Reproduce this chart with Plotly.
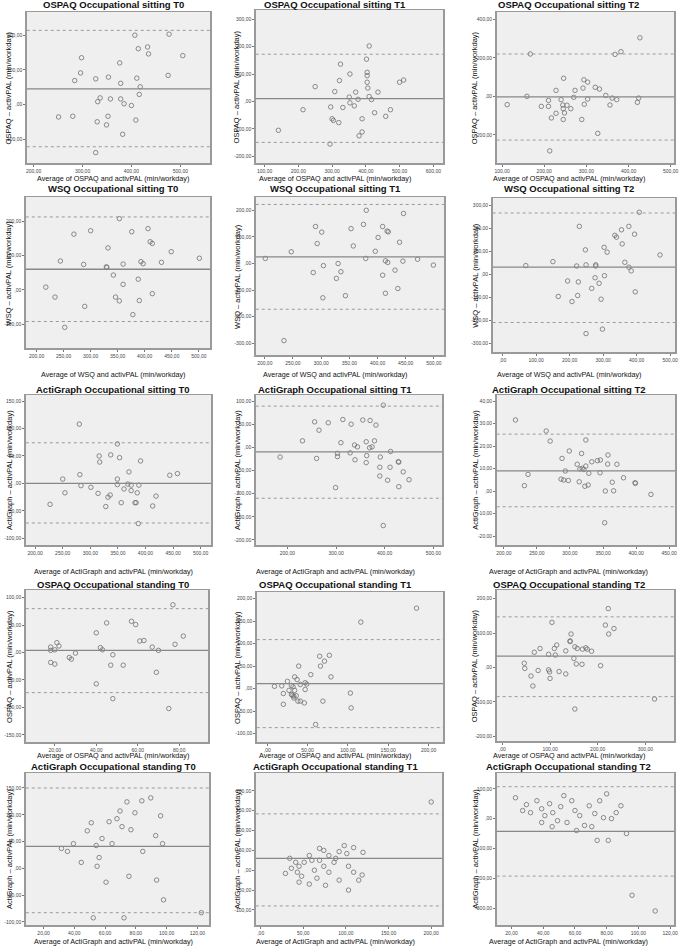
import plotly.graph_objects as go

# ---------------- DATA ----------------
titles = [
    "OSPAQ Occupational sitting T0", "OSPAQ Occupational sitting T1", "OSPAQ Occupational sitting T2",
    "WSQ Occupational sitting T0", "WSQ Occupational sitting T1", "WSQ Occupational sitting T2",
    "ActiGraph Occupational sitting T0", "ActiGraph Occupational sitting T1", "ActiGraph Occupational sitting T2",
    "OSPAQ Occupational standing T0", "OSPAQ Occupational standing T1", "OSPAQ Occupational standing T2",
    "ActiGraph Occupational standing T0", "ActiGraph Occupational standing T1", "ActiGraph Occupational standing T2",
]
x_titles = (["Average of OSPAQ and activPAL (min/workday)"] * 3 +
            ["Average of WSQ and activPAL (min/workday)"] * 3 +
            ["Average of ActiGraph and activPAL (min/workday)"] * 3 +
            ["Average of OSPAQ and activPAL (min/workday)"] * 3 +
            ["Average of ActiGraph and activPAL (min/workday)"] * 3)
y_titles = (["OSPAQ \u2013 activPAL (min/workday)"] * 3 +
            ["WSQ \u2013 activPAL (min/workday)"] * 3 +
            ["ActiGraph \u2013 activPAL (min/workday)"] * 3 +
            ["OSPAQ \u2013 activPAL (min/workday)"] * 3 +
            ["ActiGraph \u2013 activPAL (min/workday)"] * 3)

p1_x = [407, 477, 433, 435, 414, 505, 376, 298, 296, 284, 327, 353, 411, 475, 378, 418, 416, 336, 331, 357,
        378, 385, 400, 251, 280, 352, 330, 349, 409, 382, 327]
p1_y = [200, 203, 166, 146, 161, 141, 120, 135, 91, 69, 74, 79, 76, 84, 61, 51, 29, 19, 8, 16,
        16, 2, -3, -36, -34, -34, -50, -59, -45, -86, -139]

p2_x = [410, 402, 325, 353, 404, 404, 322, 404, 250, 500, 512, 308, 370, 406, 436, 351, 410, 377, 417, 353,
        296, 332, 366, 214, 473, 426, 459, 389, 300, 304, 320, 141, 389, 380, 294]
p2_y = [202, 154, 136, 100, 106, 94, 76, 70, 54, 70, 78, 36, 34, 49, 34, 16, 18, 8, 7, -5,
        -20, -22, -16, -30, -30, -41, -54, -63, -63, -69, -77, -105, -111, -125, -155]

p3_x = [427, 167, 368, 382, 246, 294, 303, 292, 321, 331, 228, 273, 159, 270, 346, 361, 303, 372, 424, 210,
        240, 112, 193, 210, 244, 254, 295, 356, 421, 245, 263, 248, 228, 217, 245, 289, 327, 213]
p3_y = [304, 220, 218, 232, 94, 86, 74, 43, 47, 38, 31, 31, 0, -5, 5, -9, -14, -17, -9, -21,
        -17, -43, -52, -52, -45, -46, -41, -45, -31, -64, -64, -86, -88, -112, -120, -120, -192, -283]

p4_x = [353, 406, 376, 300, 269, 410, 414, 449, 332, 501, 244, 287, 393, 397, 431, 360, 329, 330, 342, 388,
        360, 217, 414, 234, 346, 353, 390, 289, 378, 252]
p4_y = [207, 178, 169, 172, 162, 140, 135, 111, 122, 92, 84, 74, 82, 76, 80, 75, 67, 65, 43, 31,
        16, 8, -11, -21, -21, -32, -31, -48, -72, -109]

p5_x = [380, 446, 375, 290, 409, 353, 417, 419, 301, 401, 439, 293, 357, 247, 396, 201, 379, 471, 414, 418,
        445, 431, 499, 304, 330, 286, 335, 409, 327, 436, 414, 343, 303, 234]
p5_y = [200, 188, 147, 139, 139, 131, 122, 119, 118, 98, 80, 75, 66, 44, 46, 19, 19, 16, 10, 4,
        9, -25, -6, -8, 0, -34, -31, -44, -56, -94, -112, -121, -129, -290]

p6_x = [408, 377, 229, 355, 394, 335, 340, 357, 303, 247, 312, 470, 150, 365, 69, 221, 249, 278, 278, 377,
        384, 304, 276, 194, 226, 288, 266, 396, 166, 224, 294, 207, 298, 249]
p6_y = [269, 208, 208, 193, 174, 169, 161, 132, 117, 106, 96, 84, 55, 52, 38, 36, 41, 41, 36, 31,
        15, -6, -15, -29, -33, -39, -61, -76, -96, -92, -108, -118, -238, -257]

p7_x = [280, 349, 316, 337, 353, 317, 391, 370, 444, 458, 250, 281, 349, 283, 301, 349, 368, 374, 388, 254,
        314, 332, 336, 361, 374, 385, 419, 227, 328, 356, 381, 383, 413, 387]
p7_y = [108, 72, 50, 52, 47, 39, 41, 21, 15, 18, 8, 16, 8, -4, -7, -2, -1, -3, -3, -17,
        -18, -25, -21, -10, -13, -17, -23, -38, -42, -35, -35, -35, -41, -73]

p8_x = [397, 256, 284, 314, 331, 355, 370, 382, 265, 231, 310, 338, 344, 362, 379, 369, 374, 303, 329, 412,
        185, 260, 303, 339, 363, 362, 391, 428, 429, 390, 411, 438, 390, 406, 450, 429, 299, 397]
p8_y = [91, 55, 53, 60, 50, 59, 58, 48, 37, 14, 10, 5, 1, 12, 14, -1, 1, -13, -12, -9,
        -21, -24, -20, -27, -18, -33, -21, -31, -32, -43, -43, -53, -62, -71, -70, -85, -87, -169]

p9_x = [217.5, 264, 270, 324, 299, 317.5, 288, 357.5, 311, 333, 341.5, 346, 357, 371, 324, 315, 318.5, 321, 293,
        328.5, 345.5, 236.5, 286.5, 290.5, 297.5, 314, 364, 381, 398.5, 399, 231, 322.5, 327.5, 353.5, 366,
        422.5, 352.5]
p9_y = [31.6, 26.7, 22.2, 22.7, 17.8, 16.7, 14.5, 16.0, 11.9, 13.0, 13.5, 13.8, 12.0, 11.9, 11.1, 9.8, 10.1,
        9.6, 8.9, 7.9, 8.1, 7.4, 5.3, 4.9, 4.7, 4.1, 3.9, 5.9, 3.7, 3.4, 2.4, 2.1, 2.7, 0.0, 0.1, -1.5, -14.1]

p10_x = [77, 57, 59, 45, 40, 82, 61, 63, 78, 21, 22, 18, 18, 20, 42, 43, 67, 70, 30, 27,
         28, 48, 18, 20, 47, 53, 69, 40, 48, 75]
p10_y = [87, 57, 51, 54, 36, 30, 21, 22, 15, 18, 12, 10, 4, 5, 9, 5, 10, 4, -1, -9,
         -12, -4, -18, -21, -23, -23, -36, -57, -84, -102]

p11_x = [185, 116, 65, 77, 71, 39, 66, 54, 79, 34, 37, 25, 41, 47, 49, 9, 18, 30, 32, 47,
         27, 34, 20, 30, 31, 33, 36, 33, 38, 41, 46, 69, 103, 104, 20, 60]
p11_y = [179, 148, 72, 74, 61, 50, 50, 31, 26, 26, 20, 16, 9, 13, 10, 5, 6, 7, 4, -2,
         -4, -4, -11, -13, -15, -17, -16, -21, -28, -28, -32, -28, -10, -43, -35, -80]

p12_x = [222, 216, 234, 223, 104, 144, 142, 142, 114, 152, 157, 168, 175, 178, 187, 109, 79, 67, 97, 111,
         133, 150, 46, 47, 155, 167, 206, 75, 97, 99, 119, 133, 100, 60, 64, 319, 152]
p12_y = [171, 123, 113, 97, 131, 97, 77, 75, 65, 60, 55, 53, 57, 53, 47, 55, 55, 44, 38, 36,
         48, 26, 12, -3, 10, 9, 5, -9, -7, -13, -12, -19, -32, -25, -54, -92, -121]

p13_x = [31.6, 35.5, 39.4, 48.4, 51, 54.2, 56.1, 58, 62.6, 64.5, 67.7, 69.7, 71, 74.2, 76.8, 79.4, 83.9, 89.7,
         92.9, 96.1, 97.4, 84.5, 44.5, 54.8, 60.6, 75.5, 93.5, 98, 52.3, 72.3, 122.6]
p13_y = [37, 31.5, 46, 70, 85, 42.6, 20, 55.6, 87, 46, 92.6, 107, 77.8, 124, 72, 103.7, 126, 131.5,
         61, 98, 46, 31.5, 11, 3.7, -26, -15, -22, -59, -92.6, -92.6, -83]

p14_x = [200, 109, 98, 92, 80, 74, 69, 60, 57, 51, 45, 41, 36, 34, 43, 48, 63, 66, 74, 86,
         103, 109, 119, 45, 57, 69, 80, 92, 103, 101, 29, 76, 120, 88, 115]
p14_y = [172, 57, 62, 47, 37, 50, 55, 25, 37, 20, 10, 20, 5, 30, -5, -15, 0, -20, 10, 20,
         10, -5, -12, -30, -35, 25, -5, -25, -50, 42, -8, -38, 45, 30, -25]

p15_x = [22.5, 29.4, 36, 27, 32, 39, 41, 44, 46, 49, 51, 53, 58, 60, 63, 66, 69, 72.5, 75.6, 78,
         80, 83, 86, 89, 92.5, 55, 61, 70.6, 74, 81, 96, 110.6, 39, 45.6]
p15_y = [70, 47, 60, 27, 20, 33, 10, 50, 20, -7, 40, 77, 60, 27, 10, -23, 43, 17, 60, 3,
         83, 0, 20, 43, -50, -13, -40, -27, -73, -73, -257, -310, -13, -27]

mean_diff = [45, 10, -3, 60, 25, 31, 0, -10, 9, 4, 11, 33, 41, 30, -43]
upper_loa = [214, 172, 220, 212, 222, 266, 74, 89, 25.3, 80, 109, 147, 150, 142, 107]
lower_loa = [-122, -149, -227, -92, -172, -209, -72, -110, -7, -73, -87, -85, -83, -90, -193]

x_ticks = [
    [200, 300, 400, 500], [100, 200, 300, 400, 500, 600], [100, 200, 300, 400, 500],
    [200, 250, 300, 350, 400, 450, 500], [200, 250, 300, 350, 400, 450, 500], [0, 100, 200, 300, 400, 500],
    [200, 250, 300, 350, 400, 450, 500], [200, 300, 400, 500], [200, 250, 300, 350, 400, 450],
    [20, 40, 60, 80], [0, 50, 100, 150, 200], [0, 100, 200, 300],
    [20, 40, 60, 80, 100, 120], [0, 50, 100, 150, 200], [20, 40, 60, 80, 100, 120],
]
y_ticks = [
    [-100, 0, 100, 200], [-200, -100, 0, 100, 200, 300], [-200, 0, 200, 400],
    [-100, 0, 100, 200], [-300, -200, -100, 0, 100, 200], [-300, -200, -100, 0, 100, 200, 300],
    [-100, -50, 0, 50, 100, 150], [-200, -150, -100, -50, 0, 50, 100], [-20, -10, 0, 10, 20, 30, 40],
    [-150, -100, -50, 0, 50, 100], [-100, -50, 0, 50, 100, 150, 200], [-200, -100, 0, 100, 200],
    [-100, -50, 0, 50, 100, 150], [-100, -50, 0, 50, 100, 150, 200], [-300, -200, -100, 0, 100],
]

xs = [p1_x, p2_x, p3_x, p4_x, p5_x, p6_x, p7_x, p8_x, p9_x, p10_x, p11_x, p12_x, p13_x, p14_x, p15_x]
ys = [p1_y, p2_y, p3_y, p4_y, p5_y, p6_y, p7_y, p8_y, p9_y, p10_y, p11_y, p12_y, p13_y, p14_y, p15_y]

# ---------------- LAYOUT CONFIG ----------------
W, H = 685, 946
x_ranges = [[186, 561], [74, 629], [87, 508], [180, 521], [184, 518], [-30, 515], [183, 519], [135, 518],
            [189, 459], [6, 94], [-13, 218], [-12, 360], [8.4, 127.7], [-5.8, 212.8], [10.6, 122.5]]
y_ranges = [[-169, 267], [-224, 333], [-346, 438], [-169, 270], [-344, 250], [-337, 331], [-112, 161],
            [-211, 113], [-24, 42.7], [-163, 114], [-119, 215], [-214, 225], [-106, 178], [-138, 245],
            [-357, 153]]
boxes = [(25, 210, 12, 163), (256, 445, 10, 163), (499, 678, 12, 163),
         (24, 210, 197, 348), (256, 446, 197, 355), (495, 679, 198, 352),
         (24, 211, 395, 545), (256, 444, 395, 545), (499, 679, 395, 545),
         (24, 208, 590, 742), (257, 445, 592, 742), (499, 678, 590, 741),
         (24, 209, 773, 925), (256, 444, 773, 925), (499, 678, 773, 925)]
title_y = [4, 189, 389, 584, 766]
xtitle_y = [178, 375, 571, 755, 941]
col_cx = [112, 336, 572]
ytitle_x = [7, 237, 477]


def fmt(v):
    if v == 0:
        return ",00"
    s = f"{abs(v):.2f}".replace(".", ",")
    return ("-" if v < 0 else "") + s


fig = go.Figure()
shapes = []
annotations = []
for i in range(15):
    n = i + 1
    xa = "x" if n == 1 else f"x{n}"
    ya = "y" if n == 1 else f"y{n}"
    xkey = "xaxis" if n == 1 else f"xaxis{n}"
    ykey = "yaxis" if n == 1 else f"yaxis{n}"
    l, r, t, b = boxes[i]
    fig.add_trace(go.Scatter(
        x=xs[i], y=ys[i], mode="markers", xaxis=xa, yaxis=ya, showlegend=False, hoverinfo="skip",
        marker=dict(symbol="circle-open", size=4.5, color="#707070", line=dict(width=0.8))))
    common = dict(showgrid=False, zeroline=False, showline=True, mirror=True, linecolor="#9a9a9a",
                  linewidth=1.5, ticks="outside", ticklen=2, tickwidth=1, tickcolor="#777",
                  tickfont=dict(size=5, color="#444", family="Liberation Sans"))
    fig.layout[xkey] = dict(domain=[l / W, r / W], range=x_ranges[i], anchor=ya,
                            tickvals=x_ticks[i], ticktext=[fmt(v) for v in x_ticks[i]], **common)
    fig.layout[ykey] = dict(domain=[1 - b / H, 1 - t / H], range=y_ranges[i], anchor=xa,
                            tickvals=y_ticks[i], ticktext=[fmt(v) for v in y_ticks[i]], **common)
    xref = f"{xa} domain"
    shapes.append(dict(type="line", xref=xref, yref=ya, x0=0, x1=1, y0=mean_diff[i], y1=mean_diff[i],
                       line=dict(color="#888888", width=1.3)))
    for v in (upper_loa[i], lower_loa[i]):
        shapes.append(dict(type="line", xref=xref, yref=ya, x0=0, x1=1, y0=v, y1=v,
                           line=dict(color="#9a9a9a", width=1, dash="dot")))
    row, col = divmod(i, 3)
    annotations.append(dict(text="<b>" + titles[i] + "</b>", xref="paper", yref="paper",
                            x=col_cx[col] / W, y=1 - title_y[row] / H, xanchor="center", yanchor="middle",
                            showarrow=False,
                            font=dict(size=9.5, color="#111", family="Liberation Sans")))
    annotations.append(dict(text=x_titles[i], xref="paper", yref="paper",
                            x=col_cx[col] / W, y=1 - xtitle_y[row] / H, xanchor="center", yanchor="middle",
                            showarrow=False,
                            font=dict(size=7.2, color="#111", family="Liberation Sans")))
    annotations.append(dict(text=y_titles[i], xref="paper", yref="paper", textangle=-90,
                            x=ytitle_x[col] / W, y=1 - ((t + b) / 2) / H, xanchor="center", yanchor="middle",
                            showarrow=False,
                            font=dict(size=7.5, color="#111", family="Liberation Sans")))

fig.update_layout(width=W, height=H, autosize=False, margin=dict(l=0, r=0, t=0, b=0),
                  paper_bgcolor="white", plot_bgcolor="#efefef", shapes=shapes, annotations=annotations)
fig.write_html("out.html", config={"displayModeBar": False, "staticPlot": True},
               post_script="document.body.style.margin='0px';")
